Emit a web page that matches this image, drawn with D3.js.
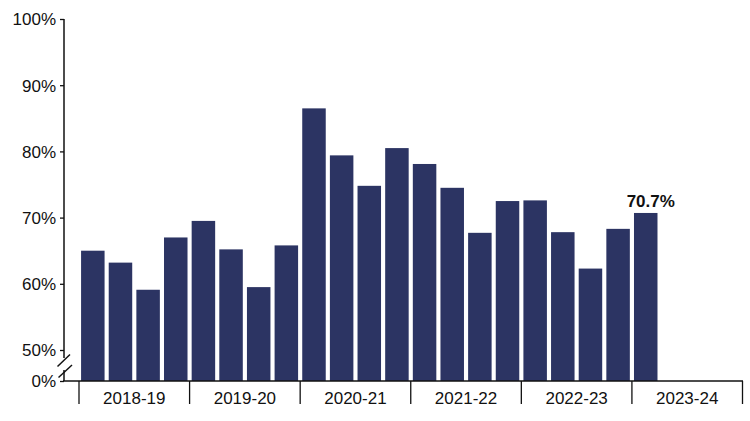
<!DOCTYPE html>
<html><head><meta charset="utf-8">
<script src="https://cdn.jsdelivr.net/npm/d3@7"></script>
<style>body{margin:0;background:#fff;} svg{display:block;font-family:"Liberation Sans",Arial,sans-serif;}</style>
</head><body>
<script>
const years = ["2018-19","2019-20","2020-21","2021-22","2022-23","2023-24"];
const quarters = ["Q1","Q2","Q3","Q4"];
const values = [65.0,63.2,59.1,67.0, 69.5,65.2,59.5,65.8, 86.5,79.4,74.8,80.5, 78.1,74.5,67.7,72.5, 72.6,67.8,62.3,68.3, 70.7];
const yTicks = [0,50,60,70,80,90,100];
const labelText = "70.7%";

const W=750,H=421;
const svg=d3.select("body").append("svg").attr("width",W).attr("height",H);
const slots=[]; years.forEach(y=>quarters.forEach(q=>slots.push(y+" "+q)));
const x=d3.scaleBand().domain(slots).range([79,742.5]).paddingInner(0.15).paddingOuter(0.075);
const y=d3.scaleLinear().domain([0,50,100]).range([381,350,19]);
const color="#2c3463";

svg.selectAll("rect.bar").data(values).join("rect").attr("class","bar")
  .attr("x",(d,i)=>x(slots[i])).attr("width",x.bandwidth())
  .attr("y",d=>y(d)).attr("height",d=>y(0)-y(d)).attr("fill",color);

// y axis
const yAxis=d3.axisLeft(y).tickValues(yTicks).tickFormat(d=>d+"%").tickSize(4).tickSizeOuter(0);
const ga=svg.append("g").attr("transform","translate(64,0)").call(yAxis);
ga.select(".domain").remove();
ga.selectAll("text").attr("font-size",17).attr("fill","#111").attr("x",-8).attr("dy","0.35em");
ga.selectAll("line").attr("stroke","#111").attr("stroke-width",1.3);
// axis line with break
svg.append("line").attr("x1",64).attr("x2",64).attr("y1",y(100)).attr("y2",y(50)+8).attr("stroke","#111").attr("stroke-width",1.5);
svg.append("line").attr("x1",64).attr("x2",64).attr("y1",y(50)+20).attr("y2",y(0)).attr("stroke","#111").attr("stroke-width",1.5);
svg.append("line").attr("x1",57.5).attr("y1",y(50)+16.5).attr("x2",70).attr("y2",y(50)+4.5).attr("stroke","#111").attr("stroke-width",1.5);
svg.append("line").attr("x1",58.5).attr("y1",y(50)+27.5).attr("x2",72).attr("y2",y(50)+15).attr("stroke","#111").attr("stroke-width",1.5);

// x axis
svg.append("line").attr("x1",63).attr("x2",743).attr("y1",y(0)).attr("y2",y(0)).attr("stroke","#111").attr("stroke-width",1.5);
const bounds=d3.range(years.length+1).map(i=>79+i*(742.5-79)/years.length);
svg.selectAll("line.sep").data(bounds).join("line").attr("class","sep")
  .attr("x1",d=>d).attr("x2",d=>d).attr("y1",y(0)).attr("y2",404).attr("stroke","#111").attr("stroke-width",1.3);
svg.selectAll("text.yr").data(years).join("text").attr("class","yr")
  .attr("x",(d,i)=>(bounds[i]+bounds[i+1])/2).attr("y",404).attr("text-anchor","middle")
  .attr("font-size",17).attr("fill","#111").text(d=>d);

// label
const li=values.length-1;
svg.append("text").attr("x",x(slots[li])+x.bandwidth()/2+5).attr("y",y(values[li])-6)
  .attr("text-anchor","middle").attr("font-size",17).attr("font-weight","bold").attr("fill","#111").text(labelText);
</script>
</body></html>
